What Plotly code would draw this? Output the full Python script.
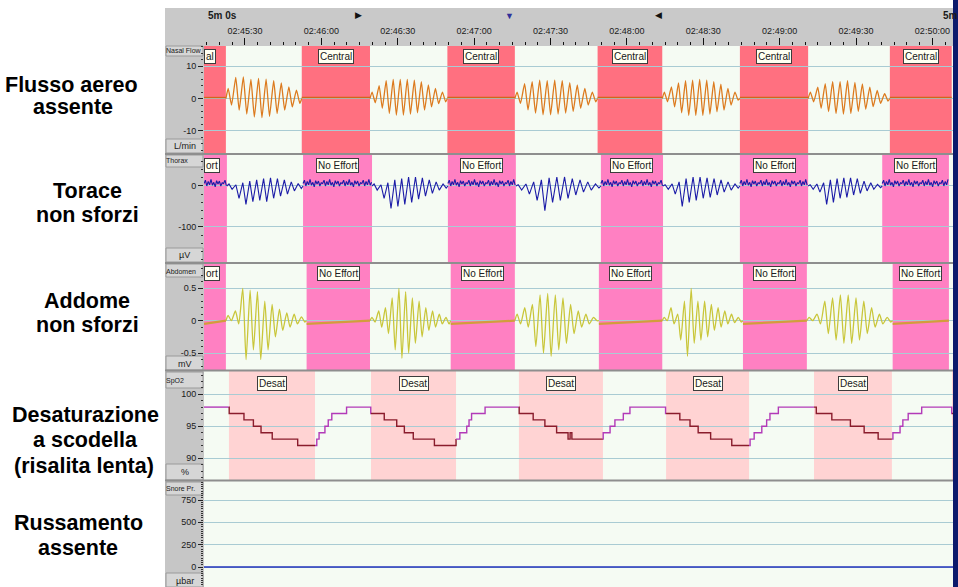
import plotly.graph_objects as go

# ---------------------------------------------------------------- data
# time is expressed in seconds after 02:45:00
time_window = [13.9, 308.1]
time_tick_secs = [30, 60, 90, 120, 150, 180, 210, 240, 270, 300]
time_tick_labels = ["02:45:30", "02:46:00", "02:46:30", "02:47:00", "02:47:30",
                    "02:48:00", "02:48:30", "02:49:00", "02:49:30", "02:50:00"]

# scored events (start, end) per channel
central_events = [(13.9, 22.5), (52.3, 79.1), (109.5, 136.0), (168.5, 193.9), (224.4, 251.2), (283.3, 307.6)]
thorax_events = [(13.9, 22.9), (52.8, 79.9), (109.7, 136.4), (169.8, 194.2), (224.4, 251.2), (280.3, 306.5)]
abdomen_events = [(13.9, 22.5), (54.2, 79.1), (110.8, 136.0), (169.0, 193.9), (225.6, 250.7), (284.4, 306.5)]
desat_events = [(23.7, 57.5), (79.5, 112.9), (137.6, 170.6), (195.4, 228.0), (253.5, 284.1), (307.7, 308.1)]

# nasal flow (L/min): breath-by-breath peaks and troughs of each breathing run
nasal_peaks = [
    [3.1, 6.5, 6.7, 5.9, 6.2, 6.0, 5.5, 4.8, 3.6, 2.6],
    [2.0, 4.0, 5.5, 5.9, 5.9, 5.9, 5.7, 5.2, 4.2, 3.1, 2.0],
    [2.0, 4.6, 5.2, 5.7, 5.5, 5.7, 5.5, 4.9, 4.2, 3.1, 2.0],
    [2.0, 3.6, 4.8, 5.5, 5.7, 5.9, 5.7, 5.2, 4.4, 3.1, 2.0],
    [2.0, 3.5, 4.6, 5.2, 5.2, 5.5, 5.0, 4.5, 3.5, 2.5, 1.5],
]
nasal_troughs = [
    [-2.0, -3.6, -4.8, -5.7, -5.9, -5.5, -4.6, -3.6, -2.6, -1.5],
    [-1.3, -3.0, -4.6, -5.1, -5.1, -4.8, -4.4, -3.6, -2.6, -1.6, -1.0],
    [-1.5, -3.5, -4.5, -5.0, -5.0, -4.8, -4.5, -4.0, -3.0, -2.0, -1.0],
    [-1.0, -2.6, -4.4, -5.2, -5.2, -5.2, -4.8, -4.1, -3.6, -2.0, -0.5],
    [-1.0, -3.0, -4.0, -4.6, -4.8, -4.6, -4.0, -3.3, -2.5, -1.5, -0.8],
]
nasal_flat_level = 0.3

# thorax effort (uV)
thorax_peaks = [
    [5, 3, 8, 12, 15, 18, 20, 18, 15, 10, 6],
    [5, 3, 8, 15, 18, 22, 22, 20, 15, 10, 5],
    [3, 5, 10, 15, 20, 22, 22, 18, 15, 10, 5],
    [3, 5, 10, 18, 22, 22, 20, 18, 15, 10, 5],
    [3, 5, 8, 15, 18, 20, 20, 18, 12, 8, 4],
]
thorax_troughs = [
    [-8, -30, -45, -38, -35, -38, -30, -25, -20, -12, -6],
    [-10, -30, -55, -50, -45, -40, -32, -25, -18, -10, -5],
    [-10, -20, -35, -60, -40, -35, -30, -22, -15, -10, -5],
    [-8, -20, -50, -40, -35, -30, -28, -22, -15, -10, -5],
    [-8, -15, -45, -40, -30, -28, -22, -18, -12, -8, -4],
]
thorax_flat_ripple = [6, 14, 0, 11, 3, 16, 2, 9, -2, 13, 5, 12, 0, 8]

# abdomen effort (mV)
abdomen_peaks = [
    [0.08, 0.15, 0.50, 0.47, 0.45, 0.30, 0.25, 0.18, 0.12, 0.10, 0.06],
    [0.05, 0.15, 0.20, 0.35, 0.50, 0.45, 0.35, 0.30, 0.20, 0.15, 0.10, 0.05],
    [0.10, 0.20, 0.25, 0.40, 0.42, 0.40, 0.35, 0.25, 0.15, 0.10, 0.05],
    [0.05, 0.20, 0.10, 0.30, 0.50, 0.30, 0.30, 0.25, 0.20, 0.15, 0.10, 0.05],
    [0.05, 0.10, 0.30, 0.35, 0.40, 0.40, 0.35, 0.30, 0.20, 0.10, 0.05],
]
abdomen_troughs = [
    [0.00, -0.05, -0.60, -0.45, -0.60, -0.45, -0.25, -0.15, -0.10, -0.05, -0.02],
    [-0.02, -0.10, -0.20, -0.45, -0.58, -0.50, -0.35, -0.25, -0.15, -0.10, -0.05, -0.05],
    [-0.05, -0.10, -0.40, -0.50, -0.55, -0.45, -0.35, -0.20, -0.10, -0.05, 0.00],
    [0.00, -0.05, -0.30, -0.55, -0.35, -0.30, -0.25, -0.15, -0.10, -0.05, -0.03, -0.02],
    [0.00, -0.05, -0.20, -0.30, -0.35, -0.35, -0.30, -0.20, -0.10, -0.05, -0.02],
]
abdomen_flat_levels = (-0.05, 0.0)

# SpO2 (%): step changes (time, new value)
spo2_times = [13.9, 23.8, 29.6, 33.3, 36.3, 40.7, 50.7, 58.2, 59.1, 61.4, 62.7, 64.1, 69.9,
              79.4, 84.7, 89.6, 92.6, 96.1, 104.4, 112.9, 114.4, 117.1, 118.0, 119.0, 124.3,
              137.7, 143.2, 147.8, 152.4, 156.9, 157.7, 158.4, 170.7, 173.4, 175.3, 178.6, 181.2,
              195.2, 200.8, 204.8, 208.0, 212.9, 221.2, 228.4, 230.0, 233.0, 234.9, 236.2, 239.5,
              254.4, 260.5, 267.8, 273.2, 278.7, 284.5, 287.3, 288.4, 290.5, 295.8, 307.6]
spo2_values = [98, 97, 96, 95, 94, 93, 92, 93, 94, 95, 96, 97, 98,
               97, 96, 95, 94, 93, 92, 93, 94, 95, 96, 97, 98,
               97, 96, 95, 94, 93, 94, 93, 94, 95, 96, 97, 98,
               97, 96, 95, 94, 93, 92, 93, 94, 95, 96, 97, 98,
               97, 96, 95, 94, 93, 94, 95, 96, 97, 98, 97]

snore_level = 0

# ---------------------------------------------------------------- page geometry (pixels)
W, H = 958, 587
COL_L, PLOT_L, PLOT_R = 165, 204, 953
HEAD_T, HEAD_B = 8, 46
panels = [(46, 153), (155, 262), (264, 370), (371, 480), (481, 587)]


def px(x):
    return x / W


def py(y):
    return 1 - y / H


GRID = "#a9cbd3"
TICKFONT = dict(family="Liberation Sans", size=9, color="#1a1a1a")


def breathing(events, peaks, troughs):
    xs, ys = [], []
    for i in range(len(events) - 1):
        a, b = events[i][1], events[i + 1][0]
        n = len(peaks[i])
        d = (b - a) / n
        xs.append(a)
        ys.append(0)
        for k in range(n):
            xs += [a + (k + 0.3) * d, a + (k + 0.75) * d]
            ys += [peaks[i][k], troughs[i][k]]
        xs.append(b)
        ys.append(0)
        xs.append(None)
        ys.append(None)
    return xs, ys


def spo2_at(t):
    v = spo2_values[0]
    for tt, vv in zip(spo2_times, spo2_values):
        if tt <= t:
            v = vv
    return v


def spo2_piece(a, b):
    xs, ys = [a], [spo2_at(a)]
    for tt, vv in zip(spo2_times, spo2_values):
        if a < tt < b:
            xs.append(tt)
            ys.append(vv)
    xs.append(b)
    ys.append(spo2_at(b))
    return xs, ys


fig = go.Figure()

# ---- nasal flow
nx, ny = breathing(central_events, nasal_peaks, nasal_troughs)
fig.add_trace(go.Scatter(x=nx, y=ny, mode="lines", line=dict(color="#dc7a1e", width=1.3, shape="spline", smoothing=0.45),
                         xaxis="x", yaxis="y", hoverinfo="skip"))
fx, fy = [], []
for a, b in central_events:
    fx += [a, b, None]
    fy += [nasal_flat_level, nasal_flat_level, None]
fig.add_trace(go.Scatter(x=fx, y=fy, mode="lines", line=dict(color="#d2661a", width=1.4),
                         xaxis="x", yaxis="y", hoverinfo="skip"))

# ---- thorax
tx, ty = breathing(thorax_events, thorax_peaks, thorax_troughs)
fig.add_trace(go.Scatter(x=tx, y=ty, mode="lines", line=dict(color="#1c1ca8", width=1.1),
                         xaxis="x2", yaxis="y2", hoverinfo="skip"))
rx, ry = [], []
step = 0.55
for a, b in thorax_events:
    t, k = a, 0
    while t <= b:
        rx.append(t)
        ry.append(thorax_flat_ripple[k % len(thorax_flat_ripple)])
        t += step
        k += 1
    rx.append(None)
    ry.append(None)
fig.add_trace(go.Scatter(x=rx, y=ry, mode="lines", line=dict(color="#1c1ca8", width=1.1),
                         xaxis="x2", yaxis="y2", hoverinfo="skip"))

# ---- abdomen
ax_, ay_ = breathing(abdomen_events, abdomen_peaks, abdomen_troughs)
fig.add_trace(go.Scatter(x=ax_, y=ay_, mode="lines", line=dict(color="#c9c63a", width=1.3, shape="spline", smoothing=0.6),
                         xaxis="x3", yaxis="y3", hoverinfo="skip"))
bx, by = [], []
for a, b in abdomen_events:
    bx += [a, b, None]
    by += [abdomen_flat_levels[0], abdomen_flat_levels[1], None]
fig.add_trace(go.Scatter(x=bx, y=by, mode="lines", line=dict(color="#d39c3c", width=2.2),
                         xaxis="x3", yaxis="y3", hoverinfo="skip"))

# ---- SpO2: maroon inside desaturation, magenta elsewhere
edges = [time_window[0]]
for a, b in desat_events:
    edges += [a, b]
edges.append(time_window[1])
for i in range(len(edges) - 1):
    a, b = edges[i], edges[i + 1]
    if b <= a:
        continue
    inside = i % 2 == 1
    sx, sy = spo2_piece(a, b)
    fig.add_trace(go.Scatter(x=sx, y=sy, mode="lines",
                             line=dict(color="#8a1c2c" if inside else "#b23ab8", width=1.4, shape="hv"),
                             xaxis="x4", yaxis="y4", hoverinfo="skip"))

# ---- snore
fig.add_trace(go.Scatter(x=time_window, y=[snore_level, snore_level], mode="lines",
                         line=dict(color="#2233bb", width=1.4), xaxis="x5", yaxis="y5", hoverinfo="skip"))

# ---------------------------------------------------------------- axes
yspecs = [
    dict(range=[-16.8, 16.2], tickvals=[-10, 0, 10], ticktext=["-10", "0", "10"], minor=2),
    dict(range=[-185.4, 75.6], tickvals=[-100, 0], ticktext=["-100", "0"], minor=20),
    dict(range=[-0.761, 0.875], tickvals=[-0.5, 0, 0.5], ticktext=["-0.5", "0", "0.5"], minor=0.1),
    dict(range=[86.61, 103.64], tickvals=[90, 95, 100], ticktext=["90", "95", "100"], minor=1),
    dict(range=[-223.9, 962.7], tickvals=[0, 250, 500, 750], ticktext=["0", "250", "500", "750"], minor=25),
]

layout = dict(
    width=W, height=H, margin=dict(l=0, r=0, t=0, b=0),
    paper_bgcolor="white", plot_bgcolor="#f5fbf3", showlegend=False,
)
for i, (spec, (top, bot)) in enumerate(zip(yspecs, panels)):
    n = "" if i == 0 else str(i + 1)
    layout["yaxis" + n] = dict(
        domain=[py(bot), py(top)], range=spec["range"], anchor="x" + n,
        tickmode="array", tickvals=spec["tickvals"], ticktext=spec["ticktext"],
        ticks="outside", ticklen=5, tickcolor="#222", tickwidth=1, tickfont=TICKFONT,
        showgrid=True, gridcolor=GRID, gridwidth=1, zeroline=False, showline=False,
        minor=dict(tickmode="linear", tick0=0, dtick=spec["minor"], ticks="outside", ticklen=2,
                   tickcolor="#333", showgrid=False),
        fixedrange=True,
    )
    xa = dict(domain=[px(PLOT_L), px(PLOT_R)], range=time_window, anchor="y" + n,
              showgrid=False, zeroline=False, showline=False, fixedrange=True)
    if i == 0:
        xa.update(side="top", tickmode="array", tickvals=time_tick_secs, ticktext=time_tick_labels,
                  ticks="outside", ticklen=7, tickcolor="#111", tickwidth=1, tickfont=TICKFONT,
                  minor=dict(tickmode="linear", tick0=0, dtick=5, ticks="outside", ticklen=3,
                             tickcolor="#111", showgrid=False))
    else:
        xa.update(matches="x", showticklabels=False, ticks="")
    layout["xaxis" + n] = xa

fig.update_layout(**layout)

# ---------------------------------------------------------------- frame and shading
shapes = []
# header strip and channel label column
shapes.append(dict(type="rect", xref="paper", yref="paper", x0=px(COL_L), x1=px(PLOT_R), y0=py(HEAD_B), y1=py(HEAD_T),
                   fillcolor="#c9c9c9", line_width=0, layer="below"))
shapes.append(dict(type="rect", xref="paper", yref="paper", x0=px(COL_L), x1=px(PLOT_L), y0=0, y1=py(HEAD_B),
                   fillcolor="#c6c6c6", line_width=0, layer="below"))
name_boxes = [(46, 56), (155, 167), (264, 277), (372, 388), (482, 495)]
unit_boxes = [(139, 153), (248, 262), (356, 370), (464, 480), (573, 587)]
for (t, b) in name_boxes + unit_boxes:
    shapes.append(dict(type="rect", xref="paper", yref="paper", x0=px(COL_L + 1), x1=px(PLOT_L - 1), y0=py(b), y1=py(t),
                       fillcolor="#d6d6d6", line=dict(color="#9a9a9a", width=1), layer="below"))

event_sets = [(central_events, "#ff7080", "y"), (thorax_events, "#ff80c2", "y2"),
              (abdomen_events, "#ff80c2", "y3"), (desat_events, "#ffd3d3", "y4")]
for evs, col, yr in event_sets:
    xr = "x" if yr == "y" else "x" + yr[1:]
    for a, b in evs:
        shapes.append(dict(type="rect", xref=xr, yref=yr + " domain", x0=a, x1=b, y0=0, y1=1,
                           fillcolor=col, line_width=0, layer="below"))

# panel separators
for y in [154, 263, 370.5, 480.5]:
    shapes.append(dict(type="line", xref="paper", yref="paper", x0=px(COL_L), x1=px(PLOT_R), y0=py(y), y1=py(y),
                       line=dict(color="#8e8e8e", width=2), layer="above"))
# right frame
shapes.append(dict(type="rect", xref="paper", yref="paper", x0=px(PLOT_R), x1=1, y0=0, y1=1,
                   fillcolor="#0c1a6c", line_width=0, layer="above"))
fig.update_layout(shapes=shapes)

# ---------------------------------------------------------------- text
ann = []


def note(text, x, y, size=9, color="#1a1a1a", xanchor="center", bold=False, **kw):
    ann.append(dict(text=("<b>%s</b>" % text) if bold else text, x=x, y=y, xref="paper", yref="paper",
                    xanchor=xanchor, yanchor="middle", showarrow=False,
                    font=dict(family="Liberation Sans", size=size, color=color), **kw))


# channel names and units (drawn first so event tags sit on top)
for name, ypx in [("Nasal Flow", 50.5), ("Thorax", 160.5), ("Abdomen", 271), ("SpO2", 380.5), ("Snore Pr.", 488.5)]:
    note(name, px(COL_L - 1), py(ypx), size=7, xanchor="left")
for unit, ypx in [("L/min", 146), ("µV", 255.5), ("mV", 363.5), ("%", 472), ("µbar", 580.5)]:
    note(unit, px((COL_L + PLOT_L) / 2), py(ypx), size=9)

# event tags
tag_rows = [(central_events, "Central", "x", 56.5, "al"), (thorax_events, "No Effort", "x2", 165.5, "ort"),
            (abdomen_events, "No Effort", "x3", 273.5, "ort"), (desat_events, "Desat", "x4", 383, None)]
for evs, label, xr, ypx, stub in tag_rows:
    for j, (a, b) in enumerate(evs):
        if b - a < 5:
            continue
        if j == 0 and stub and a <= time_window[0]:
            ann.append(dict(text=stub, x=a, y=py(ypx), xref=xr, yref="paper", xanchor="left", yanchor="middle",
                            showarrow=False, bgcolor="#fffff2", bordercolor="#3c3c3c", borderwidth=1, borderpad=1,
                            font=dict(family="Liberation Sans", size=10, color="#202020")))
            continue
        ann.append(dict(text=label, x=(a + b) / 2, y=py(ypx), xref=xr, yref="paper", xanchor="center",
                        yanchor="middle", showarrow=False, bgcolor="#fffff2", bordercolor="#3c3c3c",
                        borderwidth=1, borderpad=1,
                        font=dict(family="Liberation Sans", size=10, color="#202020")))

# header
note("5m 0s", px(206), py(15), size=10, xanchor="left", bold=True)
note("5m", px(941), py(15), size=10, xanchor="left", bold=True)
note("▶", px(358), py(15), size=9, color="#111111")
note("▼", px(510), py(16), size=9, color="#30309a")
note("◀", px(658), py(15), size=9, color="#111111")

# side captions
captions = [
    ("Flusso aereo", 71, 85), ("assente", 73, 107),
    ("Torace", 87, 191), ("non sforzi", 87, 215),
    ("Addome", 87, 301), ("non sforzi", 87, 325),
    ("Desaturazione", 85, 415), ("a scodella", 85, 440), ("(risalita lenta)", 84, 466),
    ("Russamento", 78, 523), ("assente", 78, 548),
]
for text, xc, yc in captions:
    note(text, px(xc), py(yc), size=21.5, color="#000000", bold=True)

fig.update_layout(annotations=ann)
fig.write_html("out.html")
